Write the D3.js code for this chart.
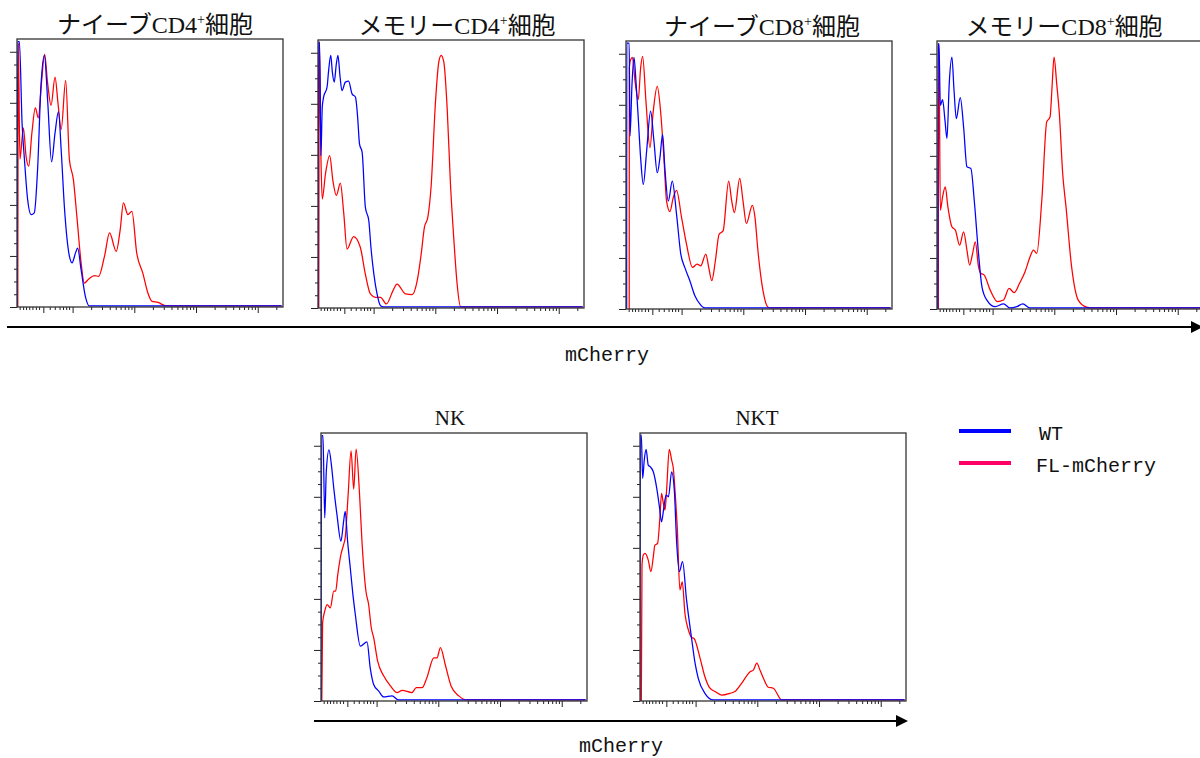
<!DOCTYPE html>
<html lang="ja">
<head>
<meta charset="UTF-8" />
<script src="https://cdnjs.cloudflare.com/ajax/libs/d3/7.8.5/d3.min.js"></script>
<style>
body { margin: 0; background: #fff; }
</style>
</head>
<body>
<div id="chart"></div>
<script>

// panel titles (superscript after "CD4"/"CD8" marked by "+")
const panelTitles = ['ナイーブCD4+細胞', 'メモリーCD4+細胞', 'ナイーブCD8+細胞', 'メモリーCD8+細胞', 'NK', 'NKT'];
const seriesNames = ['WT', 'FL-mCherry'];
const axisLabel = 'mCherry';

// x: position along the mCherry axis (% of axis), y: % of mode
const wtNaiveCD4 = [[0,0],[0.25,104],[0.9,104],[1.9,72.2],[2.8,57.8],[4.0,42.1],[5.3,36.2],[6.5,36.9],[7.8,55.2],[9.0,86.5],[10.3,98.6],[11.5,81.3],[13.0,56.9],[14.3,68.2],[15.6,76.5],[16.6,61.7],[17.8,39.5],[19.7,19.9],[20.7,17.3],[22.0,21.2],[22.8,23.1],[24.1,14.6],[25.7,4.2],[27.2,0.4],[99.5,0.4]];
const flNaiveCD4 = [[0.3,0],[0.5,103.5],[1.1,58.0],[2.4,70.2],[3.4,59.1],[4.4,55.2],[5.6,68.2],[6.9,78.0],[8.0,74.1],[9.2,87.8],[10.4,99.0],[11.5,87.8],[12.8,79.0],[14.3,90.1],[15.4,80.0],[16.6,69.5],[18.3,88.8],[19.7,57.8],[21.2,49.9],[22.5,35.6],[24.1,17.3],[25.3,9.4],[27.0,11.0],[29.1,12.3],[30.7,12.0],[32.9,19.9],[34.8,29.0],[37.3,21.8],[38.8,30.3],[40.0,40.8],[41.7,36.2],[43.2,37.5],[45.0,21.2],[47.3,13.3],[49.2,5.5],[50.8,2.2],[53.0,1.8],[56.1,0.4],[99.5,0.4]];

const wtMemoryCD4 = [[0,0],[0.2,104.2],[0.6,104.2],[1.1,59.7],[1.6,78.7],[2.1,82.6],[3.4,86.5],[4.0,93.1],[4.8,99.0],[5.4,92.4],[6.1,88.5],[6.9,95.7],[7.5,99.0],[8.3,90.5],[9.0,85.2],[10.3,88.5],[11.5,88.9],[12.8,83.9],[14.1,82.6],[14.9,74.8],[15.6,64.3],[16.6,61.0],[17.8,39.5],[19.1,34.2],[19.9,23.8],[21.0,13.3],[22.2,5.5],[23.5,0.9],[24.7,0.4],[99.5,0.4]];
const flMemoryCD4 = [[0.3,0],[0.5,104.2],[1.1,59.1],[1.6,42.7],[2.8,52.5],[4.4,59.7],[5.6,49.9],[6.9,44.1],[8.4,48.9],[9.7,36.9],[10.9,23.1],[13.4,28.0],[15.9,23.8],[17.8,13.3],[19.7,5.5],[21.6,4.2],[23.5,4.2],[25.7,1.6],[28.2,6.8],[29.7,9.4],[32.9,5.5],[35.4,5.2],[37.3,10.7],[38.8,21.2],[40.0,31.6],[41.3,35.6],[42.5,47.3],[44.2,81.3],[45.4,96.3],[46.3,99.0],[47.3,96.3],[48.6,77.4],[49.8,48.6],[51.1,26.4],[52.3,9.4],[53.6,0.5],[54.8,0.4],[99.5,0.4]];

const wtNaiveCD8 = [[0.25,0],[0.3,104.2],[1.2,104.2],[1.5,67.7],[2.25,87.9],[3.0,98.6],[3.75,89.2],[4.6,74.9],[5.5,59.2],[6.5,48.8],[7.75,61.8],[9.25,77.5],[10.5,65.8],[11.75,53.4],[12.75,59.2],[13.75,68.4],[14.6,55.3],[15.9,42.3],[17.4,50.1],[19.0,37.1],[20.6,21.5],[22.1,16.3],[24.0,11.1],[25.9,5.2],[27.75,2.0],[29.6,0.4],[99.5,0.4]];
const flNaiveCD8 = [[1.2,0],[1.25,94.4],[1.75,97.7],[2.4,98.6],[3.4,89.2],[4.6,82.0],[5.5,94.4],[6.25,99.0],[7.5,81.4],[9.0,63.2],[10.25,77.5],[11.75,87.2],[13.0,77.5],[14.25,59.2],[15.25,42.3],[16.5,38.2],[17.75,43.6],[19.0,46.5],[20.9,35.8],[22.75,25.4],[25.0,16.3],[26.75,17.6],[28.1,16.9],[30.0,21.5],[31.1,16.3],[32.25,11.1],[33.6,18.9],[35.0,29.3],[36.5,30.6],[38.6,50.1],[39.75,42.3],[40.75,37.8],[42.75,51.2],[44.0,42.3],[45.25,33.5],[47.5,40.6],[48.5,35.8],[49.6,22.8],[51.5,7.2],[53.4,0.7],[54.6,0.4],[99.5,0.4]];

const wtMemoryCD8 = [[0.3,0],[0.4,103.9],[0.75,103.9],[1.25,79.8],[2.1,82.0],[3.0,73.9],[3.75,66.8],[4.6,88.3],[5.6,98.7],[6.4,85.7],[7.25,74.6],[8.75,82.8],[10.0,71.3],[11.25,55.7],[12.75,55.0],[14.0,42.6],[15.6,21.8],[16.9,8.7],[18.75,3.5],[21.9,0.9],[25.0,2.0],[27.5,0.4],[30.0,0.9],[32.25,2.0],[35.0,0.4],[99.5,0.4]];
const flMemoryCD8 = [[0.5,0],[0.6,103.9],[0.75,103.9],[1.25,38.7],[2.1,43.9],[3.1,47.8],[4.1,40.0],[5.6,32.2],[6.9,30.9],[8.5,25.0],[10.0,30.2],[11.25,23.1],[12.25,17.2],[13.4,21.8],[14.4,26.3],[15.6,16.6],[16.5,14.0],[17.75,13.3],[20.0,7.4],[22.75,2.9],[25.0,3.5],[27.1,8.1],[29.0,6.4],[31.0,10.0],[33.1,14.6],[35.0,20.5],[36.25,23.1],[37.5,21.8],[39.4,42.6],[41.25,73.3],[42.5,75.2],[43.25,87.0],[44.0,98.7],[45.0,88.3],[46.0,76.5],[47.25,53.1],[48.5,40.0],[50.6,16.6],[53.1,3.5],[56.25,0.7],[58.1,0.4],[99.5,0.4]];

const wtNK = [[0,0],[0.25,104],[0.75,104],[1.4,71.7],[2.0,90.0],[3.0,98.4],[3.9,92.6],[4.8,83.4],[6.0,73.0],[7.5,62.6],[8.5,70.4],[9.1,74.3],[10.0,62.6],[11.0,52.2],[12.0,41.7],[12.9,33.9],[14.8,21.5],[17.3,23.2],[18.5,13.0],[19.8,6.5],[21.7,3.9],[23.6,1.6],[26.7,2.0],[29.2,0.4],[99.5,0.4]];
const flNK = [[0.3,0],[0.6,30.6],[1.4,35.2],[2.3,37.8],[3.5,36.5],[4.8,43.0],[5.5,43.0],[6.3,49.5],[7.5,57.4],[8.5,61.3],[9.1,63.9],[10.2,80.8],[11.3,98.0],[12.3,83.0],[13.2,98.7],[14.5,80.8],[15.4,62.6],[16.9,43.0],[17.9,37.8],[18.9,28.7],[19.8,24.8],[21.3,15.6],[23.6,9.8],[26.1,5.9],[28.6,3.3],[30.5,4.2],[34.2,3.3],[35.8,5.2],[38.0,5.2],[39.8,9.1],[42.4,16.9],[43.6,16.9],[44.9,20.9],[46.7,14.3],[48.9,5.9],[51.8,2.0],[54.9,0.4],[99.5,0.4]];

const wtNKT = [[0,0],[0.15,104.2],[0.5,104.2],[1.0,87.2],[1.6,94.4],[2.3,98.6],[3.1,92.4],[3.8,91.8],[5.0,89.8],[6.3,83.3],[7.3,76.1],[8.1,70.2],[9.0,76.1],[9.8,80.7],[10.7,80.0],[11.9,89.8],[12.9,82.6],[13.8,61.7],[14.8,50.7],[16.0,54.6],[17.5,39.6],[19.4,24.5],[20.7,14.8],[21.9,8.9],[24.4,3.0],[27.6,0.4],[99.5,0.4]];
const flNKT = [[0.5,0],[0.75,53.3],[1.25,57.2],[1.9,57.8],[3.1,55.2],[4.1,50.7],[5.0,56.5],[5.6,61.1],[6.6,61.7],[7.5,72.2],[8.1,81.3],[8.8,77.4],[9.4,74.8],[10.0,82.6],[11.0,98.6],[11.9,94.4],[12.5,91.4],[13.4,78.7],[14.0,68.3],[15.0,43.5],[15.9,46.7],[16.9,34.3],[18.2,27.8],[19.4,24.9],[20.3,24.5],[22.6,16.7],[24.4,9.5],[26.3,5.0],[28.2,3.7],[30.7,2.3],[33.8,3.0],[35.7,3.7],[38.2,6.9],[41.4,11.5],[42.6,12.1],[43.9,14.8],[45.1,12.1],[46.4,8.9],[48.2,5.4],[50.1,5.0],[53.3,0.4],[99.5,0.4]];

const wtSeries = [wtNaiveCD4, wtMemoryCD4, wtNaiveCD8, wtMemoryCD8, wtNK, wtNKT];
const flSeries = [flNaiveCD4, flMemoryCD4, flNaiveCD8, flMemoryCD8, flNK, flNKT];

// x axis ticks (% of axis): zero, then decades 10^2..10^5 (biexponential display)
const xZeroTick = 9.9;
const xLowMinorTicks = [1.0, 2.3, 3.4, 4.6, 5.8, 7.1, 8.3, 12.3, 14.2, 16.0, 17.3, 18.5, 19.6];
const xDecades = [1e2, 1e3, 1e4, 1e5];
const xDecadePos = [20.9, 90.5]; // where 10^2 and 10^5 sit
// y axis ticks (% of mode)
const yMajorTicks = [0, 20, 40, 60, 80, 100];
const yMinorTicks = [5, 10, 15, 25, 30, 35, 45, 50, 55, 65, 70, 75, 85, 90, 95];

const W = 1200, H = 758;
const pw = 266, ph = 268;
const panels = [
  { x: 17, y: 39, tx: 5 }, { x: 318, y: 40, tx: 6 }, { x: 626, y: 41, tx: 3 }, { x: 937, y: 41, tx: -6 },
  { x: 321, y: 433, tx: -4 }, { x: 640, y: 433, tx: -16 }
];
const colors = { wt: '#0000ff', fl: '#ff0000' };
const legendColors = ['#0000ff', '#ff0066'];

const svg = d3.select('#chart').append('svg')
  .attr('width', W).attr('height', H)
  .style('font-family', '"Liberation Serif", "Noto Sans CJK JP", serif');

svg.append('rect').attr('width', W).attr('height', H).attr('fill', '#fff');

const x = d3.scaleLinear().domain([0, 100]).range([0, pw]);
const y = d3.scaleLinear().domain([0, 105]).range([ph, 0]);
const decade = d3.scaleLog().domain([xDecades[0], xDecades[xDecades.length - 1]]).range(xDecadePos);

const xMajor = [xZeroTick].concat(xDecades.map(d => decade(d)));
let xMinor = xLowMinorTicks.slice();
xDecades.forEach(d => {
  d3.range(2, 10).forEach(m => {
    const v = decade(d * m);
    if (v < 100) xMinor.push(v);
  });
});

const line = d3.line()
  .x(d => x(d[0]))
  .y(d => y(d[1]))
  .curve(d3.curveMonotoneX);

panels.forEach((p, i) => {
  const g = svg.append('g').attr('transform', `translate(${p.x},${p.y})`);

  g.append('clipPath').attr('id', 'clip' + i)
    .append('rect').attr('width', pw).attr('height', ph);

  // ticks
  const axX = g.append('g').attr('transform', `translate(0,${ph})`);
  axX.append('g').call(d3.axisBottom(x).tickValues(xMajor).tickSize(6).tickSizeOuter(0).tickFormat(''));
  axX.append('g').call(d3.axisBottom(x).tickValues(xMinor).tickSize(3).tickSizeOuter(0).tickFormat(''));
  const axY = g.append('g');
  axY.append('g').call(d3.axisLeft(y).tickValues(yMajorTicks).tickSize(7).tickSizeOuter(0).tickFormat(''));
  axY.append('g').call(d3.axisLeft(y).tickValues(yMinorTicks).tickSize(3).tickSizeOuter(0).tickFormat(''));
  g.selectAll('.domain').remove();
  g.selectAll('.tick line').attr('stroke', '#222').attr('stroke-width', 1);

  const plot = g.append('g').attr('clip-path', `url(#clip${i})`);
  plot.append('path').datum(flSeries[i])
    .attr('d', line).attr('fill', 'none')
    .attr('stroke', colors.fl).attr('stroke-width', 1.25);
  plot.append('path').datum(wtSeries[i])
    .attr('d', line).attr('fill', 'none')
    .attr('stroke', colors.wt).attr('stroke-width', 1.25);

  g.append('rect').attr('width', pw).attr('height', ph)
    .attr('fill', 'none').attr('stroke', '#333').attr('stroke-width', 1.3);

  // title
  const parts = panelTitles[i].split('+');
  const small = i >= 4;
  const t = g.append('text')
    .attr('x', pw / 2 + p.tx)
    .attr('y', small ? -8 : -6)
    .attr('text-anchor', 'middle')
    .attr('font-size', small ? 21 : 24)
    .attr('fill', '#111');
  t.append('tspan').text(parts[0]);
  if (parts.length > 1) {
    t.append('tspan').attr('dy', -9).attr('font-size', 14).text('+');
    t.append('tspan').attr('dy', 9).text(parts[1]);
  }
});

// long mCherry arrows
function arrow(x0, x1, yy) {
  svg.append('line').attr('x1', x0).attr('x2', x1 - 10).attr('y1', yy).attr('y2', yy)
    .attr('stroke', '#000').attr('stroke-width', 2);
  svg.append('path')
    .attr('d', `M${x1 - 12},${yy - 6}L${x1},${yy}L${x1 - 12},${yy + 6}Z`)
    .attr('fill', '#000');
}
arrow(7, 1203, 327);
arrow(314, 908, 721);

const mono = '"Liberation Mono", "DejaVu Sans Mono", monospace';
svg.append('text').attr('x', 607).attr('y', 361).attr('text-anchor', 'middle')
  .attr('font-family', mono).attr('font-size', 20).attr('fill', '#111').text(axisLabel);
svg.append('text').attr('x', 621).attr('y', 752).attr('text-anchor', 'middle')
  .attr('font-family', mono).attr('font-size', 20).attr('fill', '#111').text(axisLabel);

// legend
const legend = svg.append('g').attr('transform', 'translate(959,431)');
seriesNames.forEach((name, i) => {
  legend.append('line').attr('x1', 0).attr('x2', 52)
    .attr('y1', i * 32).attr('y2', i * 32)
    .attr('stroke', legendColors[i]).attr('stroke-width', 4);
  legend.append('text').attr('x', i === 0 ? 80 : 77).attr('y', i * 32 + 9)
    .attr('font-family', mono).attr('font-size', 20).attr('fill', '#111').text(name);
});

</script>
</body>
</html>
